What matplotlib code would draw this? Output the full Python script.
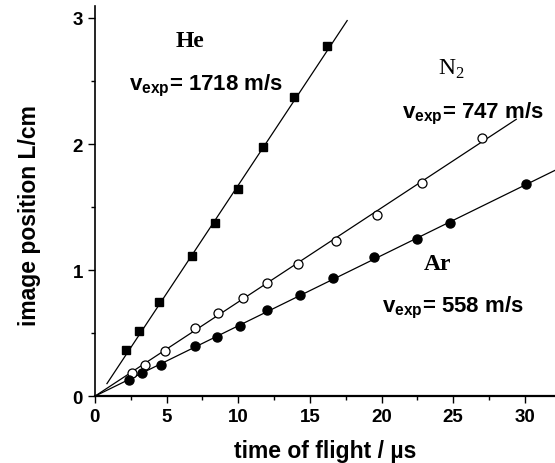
import matplotlib
matplotlib.use("Agg")
import matplotlib.pyplot as plt
import numpy as np
from matplotlib.ticker import MultipleLocator

plt.rcParams['font.family'] = ['Liberation Sans', 'DejaVu Sans']
plt.rcParams['mathtext.fontset'] = 'custom'
plt.rcParams['mathtext.rm'] = 'Liberation Serif'
plt.rcParams['mathtext.bf'] = 'Liberation Sans:bold'

# time of flight / us and image position / cm
he_t = [2.2, 3.1, 4.5, 6.8, 8.4, 10.0, 11.7, 13.9, 16.2]
he_L = [0.37, 0.52, 0.75, 1.11, 1.37, 1.64, 1.98, 2.37, 2.78]

n2_t = [2.6, 3.5, 4.9, 7.0, 8.6, 10.3, 12.0, 14.2, 16.8, 19.7, 22.8, 27.0]
n2_L = [0.18, 0.25, 0.36, 0.54, 0.66, 0.78, 0.90, 1.05, 1.23, 1.44, 1.69, 2.05]

ar_t = [2.4, 3.3, 4.6, 7.0, 8.5, 10.1, 12.0, 14.3, 16.6, 19.5, 22.5, 24.8, 30.1]
ar_L = [0.13, 0.18, 0.25, 0.40, 0.47, 0.56, 0.68, 0.80, 0.94, 1.10, 1.25, 1.37, 1.68]

# fitted velocities (cm/us) and fit ranges
he_v, he_t0, he_range = 0.1718, 0.26, (0.84, 17.6)
n2_v, n2_range = 0.0747, (0.0, 29.4)
ar_v, ar_range = 0.0558, (0.0, 32.2)

fig = plt.figure(figsize=(5.55, 4.64), dpi=100)
ax = fig.add_axes([0.171, 0.144, 0.829, 0.841])

t = np.array(he_range)
ax.plot(t, he_v * (t - he_t0), color='black', lw=0.9)
t = np.array(n2_range)
ax.plot(t, n2_v * t, color='black', lw=0.9)
t = np.array(ar_range)
ax.plot(t, ar_v * t, color='black', lw=0.9)

ax.plot(he_t, he_L, 's', ms=6, color='black', ls='none')
ax.plot(n2_t, n2_L, 'o', ms=6.5, mfc='white', mec='black', mew=0.9, ls='none')
ax.plot(ar_t, ar_L, 'o', ms=6.5, color='black', ls='none')

ax.set_xlim(0, 32.1)
ax.set_ylim(0, 3.095)
ax.spines['top'].set_visible(False)
ax.spines['right'].set_visible(False)
ax.spines['left'].set_linewidth(1.2)
ax.spines['bottom'].set_linewidth(1.6)

ax.xaxis.set_major_locator(MultipleLocator(5))
ax.xaxis.set_minor_locator(MultipleLocator(2.5))
ax.yaxis.set_major_locator(MultipleLocator(1))
ax.yaxis.set_minor_locator(MultipleLocator(0.5))
ax.tick_params(which='major', direction='out', length=5, width=1, labelsize=13.5)
ax.tick_params(which='minor', direction='out', length=3, width=1)
for lab in ax.get_xticklabels() + ax.get_yticklabels():
    lab.set_fontweight('bold')

ax.set_xlabel('time of flight / \u00b5s', fontsize=16.5, fontweight='bold', labelpad=10)
ax.set_ylabel('image position L/cm', fontsize=16.5, fontweight='bold', labelpad=23, y=0.465)

ax.text(6.6, 2.82, 'He', family='Liberation Serif', fontweight='bold', fontsize=17, ha='center', va='center')
ax.text(2.4, 2.47, r'$\mathbf{v_{exp}}$= 1718 m/s', fontweight='bold', fontsize=16, ha='left', va='center')
ax.text(24.9, 2.60, r'N$_2$', family='Liberation Serif', fontsize=17, ha='center', va='center')
ax.text(21.4, 2.25, r'$\mathbf{v_{exp}}$= 747 m/s', fontweight='bold', fontsize=16, ha='left', va='center')
ax.text(23.9, 1.05, 'Ar', family='Liberation Serif', fontweight='bold', fontsize=17, ha='center', va='center')
ax.text(20.0, 0.71, r'$\mathbf{v_{exp}}$= 558 m/s', fontweight='bold', fontsize=16, ha='left', va='center')

fig.savefig('out.png', dpi=100)
